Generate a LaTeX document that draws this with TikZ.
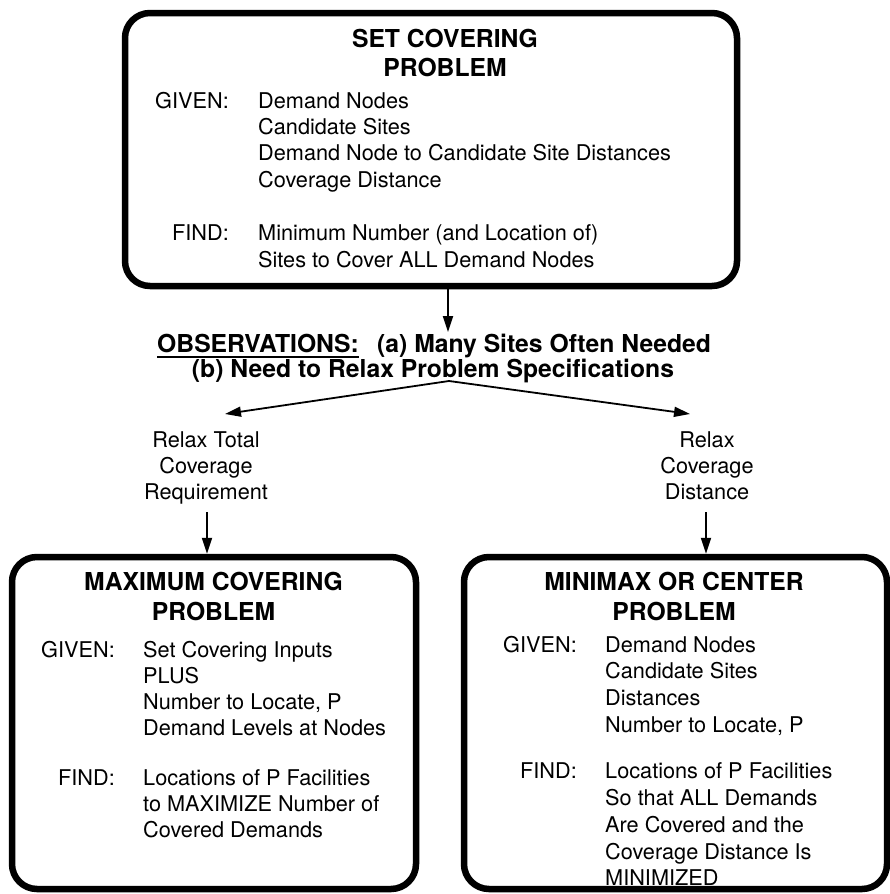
\documentclass[tikz,border=0pt]{standalone}
\usepackage{fontspec}
\setmainfont{TeX Gyre Heros}
\usetikzlibrary{arrows.meta}
\tikzset{
  probbox/.style={draw, line width=6.5pt, rounded corners=25pt, inner sep=0pt},
  body/.style={inner sep=0pt, font=\fontsize{21.7}{26}\selectfont},
  head/.style={inner sep=0pt, font=\fontsize{24.7}{29}\selectfont\bfseries},
  conn/.style={line width=1.8pt, -{Triangle[length=16pt,width=10pt]}},
}
\begin{document}
\begin{tikzpicture}[x=1pt,y=-1pt]
\useasboundingbox (0,0) rectangle (890,894);
\fill[white] (0,0) rectangle (890,894);

% ---------- boxes ----------
\node[probbox, minimum width=612pt, minimum height=273pt] (setcov) at (431,149.5) {};
\node[probbox, minimum width=404pt, minimum height=332pt] (maxcov) at (214,723) {};
\node[probbox, minimum width=423pt, minimum height=332pt] (minimax) at (675.5,723) {};

% ---------- top box text ----------
\node[head, anchor=base] (t1) at (445,47) {SET COVERING};
\node[head, anchor=base] (t2) at (445,76) {PROBLEM};
\node[body, anchor=base east] (tgiven) at (229,108) {GIVEN:};
\node[body, anchor=base west] (tg1) at (258,108) {Demand Nodes};
\node[body, anchor=base west] (tg2) at (258,134) {Candidate Sites};
\node[body, anchor=base west] (tg3) at (258,160) {Demand Node to Candidate Site Distances};
\node[body, anchor=base west] (tg4) at (258,187) {Coverage Distance};
\node[body, anchor=base east] (tfind) at (229,240) {FIND:};
\node[body, anchor=base west] (tf1) at (258,240) {Minimum Number (and Location of)};
\node[body, anchor=base west] (tf2) at (258,267) {Sites to Cover ALL Demand Nodes};

% ---------- observations ----------
\node[head, anchor=base west] (obsA) at (157,352) {OBSERVATIONS:};
\node[head, anchor=base west] (obsB) at (377,352) {(a) Many Sites Often Needed};
\node[head, anchor=base] (obsC) at (433,377) {(b) Need to Relax Problem Specifications};
\draw[line width=1.6pt] ([yshift=-5pt]obsA.base west) -- ([yshift=-5pt]obsA.base east);

\coordinate (obstop) at (448,332);
\draw[conn] (obstop |- setcov.south) -- (obstop);

\coordinate (apex) at (449,381);
\coordinate (tipL) at (225,414);
\coordinate (tipR) at (690,414);
\draw[conn] (apex) -- (tipL);
\draw[conn] (apex) -- (tipR);

% ---------- relax labels ----------
\node[body, anchor=base] (rl1) at (206,447) {Relax Total};
\node[body, anchor=base] (rl2) at (206,473) {Coverage};
\node[body, anchor=base] (rl3) at (206,499) {Requirement};
\node[body, anchor=base] (rr1) at (707,447) {Relax};
\node[body, anchor=base] (rr2) at (707,473) {Coverage};
\node[body, anchor=base] (rr3) at (707,499) {Distance};

\coordinate (dl) at (207,512);
\coordinate (dr) at (706,512);
\draw[conn] (dl) -- (dl |- maxcov.north);
\draw[conn] (dr) -- (dr |- minimax.north);

% ---------- maximum covering box text ----------
\node[head, anchor=base] (m1) at (213.5,590) {MAXIMUM COVERING};
\node[head, anchor=base] (m2) at (213.5,620) {PROBLEM};
\node[body, anchor=base east] (mgiven) at (115,657) {GIVEN:};
\node[body, anchor=base west] (mg1) at (143,657) {Set Covering Inputs};
\node[body, anchor=base west] (mg2) at (143,683) {PLUS};
\node[body, anchor=base west] (mg3) at (143,709) {Number to Locate, P};
\node[body, anchor=base west] (mg4) at (143,735) {Demand Levels at Nodes};
\node[body, anchor=base east] (mfind) at (115,785) {FIND:};
\node[body, anchor=base west] (mf1) at (143,785) {Locations of P Facilities};
\node[body, anchor=base west] (mf2) at (143,811) {to MAXIMIZE Number of};
\node[body, anchor=base west] (mf3) at (143,837) {Covered Demands};

% ---------- minimax box text ----------
\node[head, anchor=base] (n1) at (674,590) {MINIMAX OR CENTER};
\node[head, anchor=base] (n2) at (674,620) {PROBLEM};
\node[body, anchor=base east] (ngiven) at (577,652) {GIVEN:};
\node[body, anchor=base west] (ng1) at (605,652) {Demand Nodes};
\node[body, anchor=base west] (ng2) at (605,678) {Candidate Sites};
\node[body, anchor=base west] (ng3) at (605,705) {Distances};
\node[body, anchor=base west] (ng4) at (605,732) {Number to Locate, P};
\node[body, anchor=base east] (nfind) at (577,778) {FIND:};
\node[body, anchor=base west] (nf1) at (605,778) {Locations of P Facilities};
\node[body, anchor=base west] (nf2) at (605,805) {So that ALL Demands};
\node[body, anchor=base west] (nf3) at (605,832) {Are Covered and the};
\node[body, anchor=base west] (nf4) at (605,859) {Coverage Distance Is};
\node[body, anchor=base west] (nf5) at (605,885) {MINIMIZED};
\end{tikzpicture}
\end{document}
